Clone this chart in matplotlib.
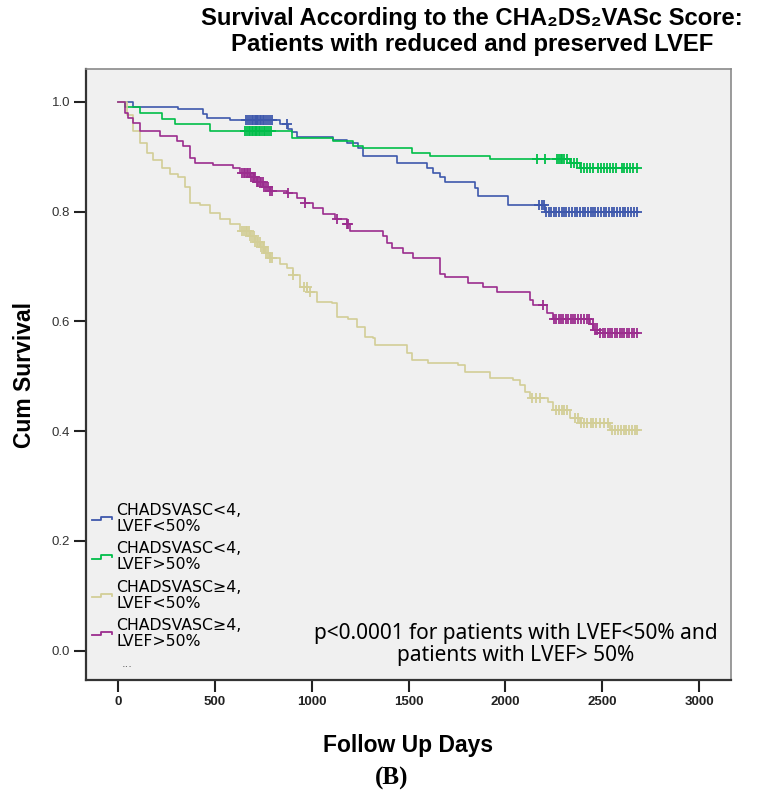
import numpy as np
import matplotlib
matplotlib.use("Agg")
import matplotlib.pyplot as plt
from matplotlib.lines import Line2D
from matplotlib.legend_handler import HandlerBase

# ---------------- data ----------------
series_labels = [
    "CHADSVASC<4,\nLVEF<50%",
    "CHADSVASC<4,\nLVEF>50%",
    "CHADSVASC\u22654,\nLVEF<50%",
    "CHADSVASC\u22654,\nLVEF>50%",
]
series_colors = ["#3E58AC", "#00BE49", "#D3CE97", "#9B2D8E"]
end_day = 2680

blue_t = [0, 77, 310, 439, 459, 578, 836, 878, 898, 924, 1110, 1182, 1239, 1265,
          1440, 1595, 1626, 1662, 1688, 1843, 1859, 2014, 2205]
blue_s = [1.0, 0.99, 0.987, 0.978, 0.971, 0.966, 0.96, 0.951, 0.944, 0.935, 0.93,
          0.925, 0.916, 0.902, 0.889, 0.88, 0.871, 0.862, 0.853, 0.842, 0.829, 0.811, 0.80]
blue_c = [660, 672, 683, 690, 698, 705, 712, 718, 725, 732, 740, 748, 756, 765, 775,
          785, 795, 873, 2175, 2190, 2200, 2212, 2225, 2238, 2250, 2262, 2275, 2290,
          2302, 2315, 2330, 2345, 2358, 2370, 2385, 2400, 2412, 2425, 2440, 2452, 2465,
          2480, 2495, 2510, 2522, 2535, 2550, 2562, 2575, 2590, 2605, 2620, 2635, 2650,
          2665, 2680]

green_t = [0, 36, 114, 227, 294, 475, 898, 1110, 1213, 1265, 1518, 1611, 1921, 2334, 2385]
green_s = [1.0, 0.99, 0.98, 0.969, 0.96, 0.946, 0.933, 0.929, 0.92, 0.915, 0.907,
           0.902, 0.896, 0.889, 0.88]
green_c = [655, 665, 675, 683, 690, 698, 705, 712, 720, 728, 735, 743, 752, 760, 770,
           780, 790, 2163, 2205, 2265, 2275, 2285, 2295, 2305, 2318, 2340, 2355, 2370,
           2390, 2405, 2420, 2435, 2450, 2480, 2495, 2510, 2525, 2540, 2555, 2570, 2600,
           2615, 2630, 2645, 2660, 2680]

tan_t = [0, 46, 77, 114, 150, 181, 227, 268, 310, 346, 372, 423, 475, 527, 578, 630,
         682, 707, 733, 759, 785, 836, 873, 904, 940, 976, 1027, 1105, 1131, 1188, 1234,
         1275, 1317, 1327, 1492, 1518, 1601, 1755, 1792, 1921, 2039, 2076, 2101, 2127,
         2220, 2246, 2334, 2385, 2540]
tan_s = [1.0, 0.975, 0.947, 0.925, 0.907, 0.893, 0.88, 0.869, 0.862, 0.844, 0.816,
         0.811, 0.798, 0.787, 0.778, 0.765, 0.755, 0.745, 0.735, 0.725, 0.715, 0.705,
         0.698, 0.684, 0.662, 0.653, 0.635, 0.633, 0.607, 0.605, 0.589, 0.571, 0.569,
         0.556, 0.542, 0.529, 0.524, 0.52, 0.507, 0.496, 0.493, 0.484, 0.471, 0.46,
         0.453, 0.438, 0.424, 0.415, 0.402]
tan_c = [640, 650, 660, 668, 676, 684, 692, 700, 708, 716, 724, 732, 740, 748, 756,
         765, 775, 785, 795, 904, 960, 975, 990, 2140, 2160, 2178, 2260, 2275, 2290,
         2305, 2318, 2360, 2375, 2390, 2405, 2420, 2440, 2455, 2470, 2490, 2510, 2530,
         2550, 2565, 2580, 2595, 2610, 2625, 2640, 2655, 2668, 2680]

purple_t = [0, 36, 52, 77, 114, 217, 305, 336, 372, 398, 490, 594, 630, 682, 718, 749,
            785, 873, 924, 966, 1007, 1058, 1120, 1182, 1198, 1368, 1389, 1415, 1471,
            1523, 1662, 1688, 1807, 1885, 1957, 2127, 2143, 2215, 2246, 2437, 2452, 2489]
purple_s = [1.0, 0.98, 0.971, 0.962, 0.947, 0.938, 0.929, 0.92, 0.898, 0.889, 0.884,
            0.88, 0.871, 0.862, 0.853, 0.845, 0.838, 0.833, 0.824, 0.816, 0.807, 0.796,
            0.787, 0.778, 0.765, 0.756, 0.742, 0.733, 0.724, 0.716, 0.687, 0.68, 0.669,
            0.662, 0.653, 0.638, 0.629, 0.615, 0.605, 0.596, 0.584, 0.578]
purple_c = [640, 650, 658, 665, 672, 680, 688, 695, 702, 710, 718, 725, 733, 740, 748,
            755, 765, 775, 785, 795, 878, 966, 1130, 1182, 1188, 2194, 2250, 2262, 2275,
            2288, 2300, 2312, 2325, 2338, 2350, 2362, 2375, 2390, 2405, 2420, 2432, 2450,
            2462, 2475, 2490, 2502, 2515, 2528, 2540, 2552, 2565, 2578, 2590, 2602, 2615,
            2628, 2640, 2652, 2665, 2680]

x_ticks = [0, 500, 1000, 1500, 2000, 2500, 3000]
y_ticks = [0.0, 0.2, 0.4, 0.6, 0.8, 1.0]

series = [(blue_t, blue_s, blue_c), (green_t, green_s, green_c),
          (tan_t, tan_s, tan_c), (purple_t, purple_s, purple_c)]

# ---------------- figure ----------------
plt.rcParams['font.family'] = ['Liberation Sans', 'DejaVu Sans']
fig = plt.figure(figsize=(7.75, 7.96), dpi=100)
ax = fig.add_axes([86 / 775, 1 - 680 / 796, 645 / 775, 611 / 796])
ax.set_facecolor('#F0F0F0')

handles = []
for (t, s, c), col in zip(series, series_colors):
    tt = np.array(t + [end_day], dtype=float)
    ss = np.array(s + [s[-1]], dtype=float)
    ax.step(tt, ss, where='post', color=col, lw=1.2, zorder=3)
    c = np.array(c, dtype=float)
    idx = np.searchsorted(np.array(t, dtype=float), c, side='right') - 1
    ax.plot(c, np.array(s)[idx], ls='none', marker='+', ms=6.5, mew=1.3,
            color=col, zorder=4)
    handles.append(Line2D([], [], color=col, lw=1.2))

ax.set_xlim(-165, 3165)
ax.set_ylim(-0.0534, 1.0596)
ax.set_xticks(x_ticks)
ax.set_yticks(y_ticks)
ax.set_xticklabels([str(v) for v in x_ticks])
ax.set_yticklabels([f"{v:.1f}" for v in y_ticks])
ax.tick_params(axis='both', direction='out', length=8.5, width=1.5, color='#222222',
               labelsize=9.5, pad=3)
for lab in ax.get_xticklabels():
    lab.set_fontweight('bold')
    lab.set_color('#222222')
for lab in ax.get_yticklabels():
    lab.set_color('#333333')
for side in ['left', 'bottom']:
    ax.spines[side].set_color('#333333')
    ax.spines[side].set_linewidth(1.6)
for side in ['right', 'top']:
    ax.spines[side].set_color('#8a8a8a')
    ax.spines[side].set_linewidth(1.2)


class StepHandler(HandlerBase):
    def create_artists(self, legend, orig_handle, xdescent, ydescent, width, height,
                       fontsize, trans):
        x0 = -xdescent
        y0 = -ydescent + height * 0.38
        h = height * 0.3
        xs = [x0, x0 + 0.45 * width, x0 + 0.45 * width, x0 + width, x0 + width]
        ys = [y0, y0, y0 + h, y0 + h, y0 + 0.4 * h]
        ln = Line2D(xs, ys, color=orig_handle.get_color(), lw=1.3, transform=trans)
        return [ln]


leg = ax.legend(handles, series_labels, loc='upper left',
                bbox_to_anchor=(6 / 645, (680 - 503) / 611), frameon=False,
                handler_map={Line2D: StepHandler()}, handlelength=1.3,
                handletextpad=0.25, borderpad=0, borderaxespad=0, labelspacing=0.48,
                prop={'family': ['DejaVu Sans'], 'size': 11.3})
for txt in leg.get_texts():
    txt.set_linespacing(1.07)
ax.text((122 - 86) / 645, (680 - 664) / 611, "...", transform=ax.transAxes,
        fontsize=8, color='#555555', va='center', family='DejaVu Sans')

ax.text((516 - 86) / 645, (680 - 644.5) / 611,
        "p<0.0001 for patients with LVEF<50% and\npatients with LVEF> 50%",
        transform=ax.transAxes, ha='center', va='center', fontsize=15,
        family=['Noto Sans', 'DejaVu Sans'], linespacing=1.1)

ax.set_xlabel("Follow Up Days", fontsize=16.5, fontweight='bold', labelpad=19)
ax.set_ylabel("Cum Survival", fontsize=16.5, fontweight='bold', labelpad=11)

fig.text(472 / 775, 1 - 18 / 796, "Survival According to the CHA\u2082DS\u2082VASc Score:",
         ha='center', va='center', fontsize=17.2, fontweight='bold')
fig.text(472 / 775, 1 - 45 / 796, "Patients with reduced and preserved LVEF",
         ha='center', va='center', fontsize=17.2, fontweight='bold')
fig.text(392 / 775, 1 - 778 / 796, "(B)", ha='center', va='center', fontsize=18,
         fontweight='bold', family=['Liberation Serif', 'DejaVu Serif'])

fig.savefig("out.png", dpi=100, facecolor='white')
